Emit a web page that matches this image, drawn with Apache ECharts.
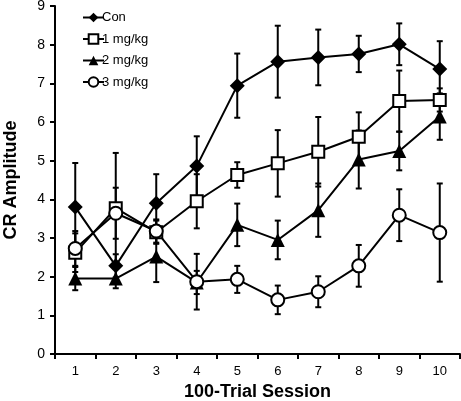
<!DOCTYPE html>
<html>
<head>
<meta charset="utf-8">
<script src="https://cdn.jsdelivr.net/npm/echarts@6/dist/echarts.min.js"></script>
<style>html,body{margin:0;padding:0;background:#fff;}#c{width:461px;height:401px;}</style>
</head>
<body>
<div id="c"></div>
<script>
const sessions = ['1','2','3','4','5','6','7','8','9','10'];
const seriesNames = ['Con','1 mg/kg','2 mg/kg','3 mg/kg'];
const con      = [3.80, 2.28, 3.90, 4.86, 6.94, 7.56, 7.67, 7.76, 8.01, 7.37];
const conErr   = [1.14, 0.30, 0.75, 0.77, 0.83, 0.93, 0.72, 0.47, 0.54, 0.72];
const mg1      = [2.62, 3.77, 3.15, 3.95, 4.63, 4.93, 5.23, 5.62, 6.54, 6.57];
const mg1Err   = [0.50, 1.43, 0.30, 0.70, 0.33, 0.86, 0.90, 0.63, 0.79, 0.30];
const mg2      = [1.95, 1.95, 2.52, 1.85, 3.34, 2.95, 3.72, 5.03, 5.25, 6.14];
const mg2Err   = [0.30, 0.25, 0.66, 0.30, 0.55, 0.50, 0.69, 0.75, 0.50, 0.60];
const mg3      = [2.73, 3.64, 3.18, 1.87, 1.93, 1.40, 1.61, 2.28, 3.59, 3.14];
const mg3Err   = [0.45, 0.66, 0.30, 0.72, 0.35, 0.37, 0.40, 0.54, 0.67, 1.27];
const yTicks   = [0, 9, 1];

const FONT = 'Liberation Sans, Arial, sans-serif';
const chart = echarts.init(document.getElementById('c'));

function errSeries(vals, errs) {
  return {
    type: 'custom',
    silent: true,
    z: 1,
    data: vals.map((v, i) => [i, v, errs[i]]),
    renderItem: function (params, api) {
      const i = api.value(0), v = api.value(1), e = api.value(2);
      const hi = api.coord([i, v + e]);
      const lo = api.coord([i, v - e]);
      const cw = 3;
      const st = { stroke: '#000', lineWidth: 2 };
      return {
        type: 'group',
        children: [
          { type: 'line', shape: { x1: hi[0], y1: hi[1], x2: lo[0], y2: lo[1] }, style: st },
          { type: 'line', shape: { x1: hi[0] - cw, y1: hi[1], x2: hi[0] + cw, y2: hi[1] }, style: st },
          { type: 'line', shape: { x1: lo[0] - cw, y1: lo[1], x2: lo[0] + cw, y2: lo[1] }, style: st }
        ]
      };
    }
  };
}

function lineSeries(name, vals, symbol, size, fill) {
  return {
    name: name,
    type: 'line',
    data: vals,
    z: 3,
    symbol: symbol,
    symbolSize: size,
    showAllSymbol: true,
    lineStyle: { color: '#000', width: 2 },
    itemStyle: { color: fill, borderColor: '#000', borderWidth: fill === '#000' ? 0 : 2, opacity: 1 },
    emphasis: { disabled: true },
    animation: false
  };
}

chart.setOption({
  animation: false,
  backgroundColor: '#fff',
  textStyle: { fontFamily: FONT, color: '#000' },
  grid: { left: 55, right: 1, top: 6, bottom: 47, containLabel: false, outerBoundsMode: 'none' },
  legend: {
    orient: 'vertical',
    left: 77,
    top: 6,
    itemWidth: 21,
    itemHeight: 12,
    itemGap: 8.5,
    textStyle: { fontFamily: FONT, fontSize: 13, color: '#000', padding: [0, 0, 0, -7] },
    data: seriesNames
  },
  xAxis: {
    type: 'category',
    data: sessions,
    boundaryGap: true,
    name: '100-Trial Session',
    nameLocation: 'middle',
    nameGap: 29,
    nameTextStyle: { fontFamily: FONT, fontSize: 18, fontWeight: 'bold', color: '#000' },
    axisLine: { lineStyle: { color: '#000', width: 2 } },
    axisTick: { show: true, length: 5, inside: false, lineStyle: { color: '#000', width: 2 } },
    axisLabel: { fontFamily: FONT, fontSize: 13, color: '#000', margin: 11 },
    splitLine: { show: false }
  },
  yAxis: {
    type: 'value',
    min: yTicks[0],
    max: yTicks[1],
    interval: yTicks[2],
    name: 'CR Amplitude',
    nameLocation: 'middle',
    nameRotate: 90,
    nameGap: 35,
    nameTextStyle: { fontFamily: FONT, fontSize: 18, fontWeight: 'bold', color: '#000' },
    axisLine: { show: true, lineStyle: { color: '#000', width: 2 } },
    axisTick: { show: true, length: 5, inside: false, lineStyle: { color: '#000', width: 2 } },
    axisLabel: { fontFamily: FONT, fontSize: 14, color: '#000', margin: 10 },
    splitLine: { show: false }
  },
  series: [
    errSeries(con, conErr),
    errSeries(mg1, mg1Err),
    errSeries(mg2, mg2Err),
    errSeries(mg3, mg3Err),
    lineSeries(seriesNames[0], con, 'diamond', 15, '#000'),
    lineSeries(seriesNames[1], mg1, 'rect', 12, '#fff'),
    lineSeries(seriesNames[2], mg2, 'triangle', 14, '#000'),
    lineSeries(seriesNames[3], mg3, 'circle', 13, '#fff')
  ]
});
</script>
</body>
</html>
